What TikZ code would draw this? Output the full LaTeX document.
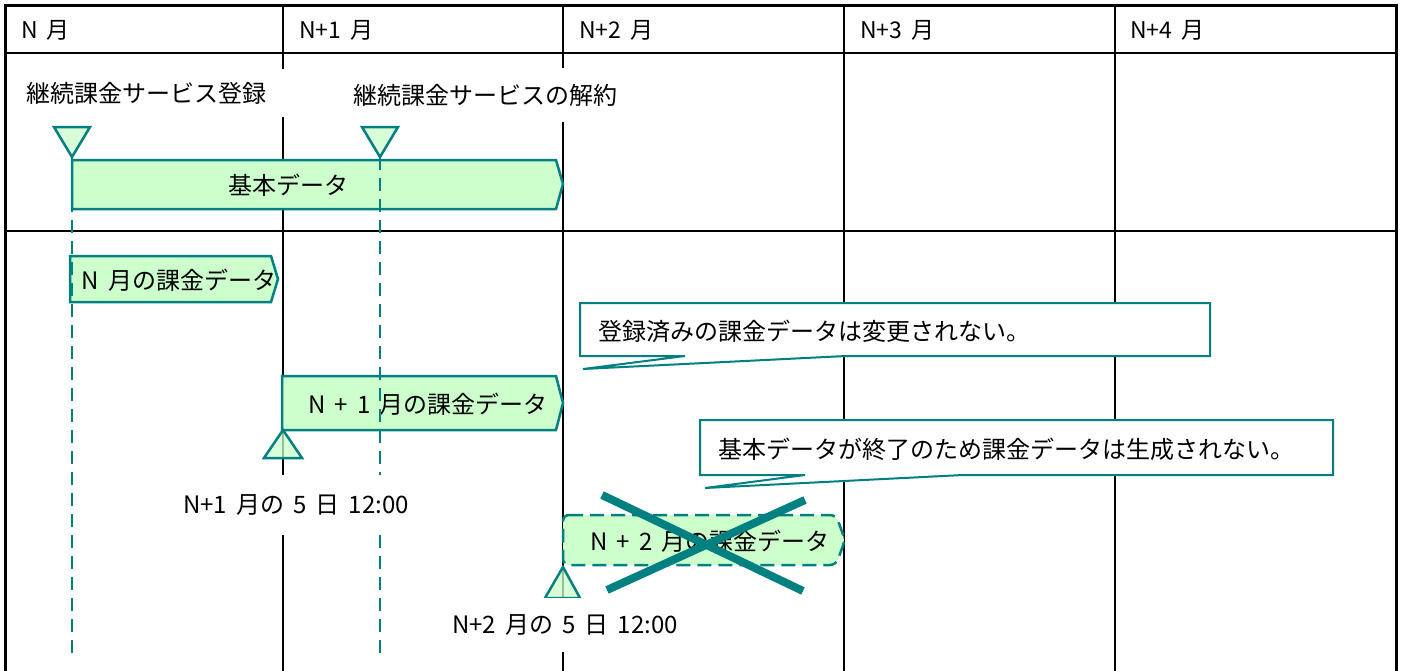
\documentclass[tikz,border=0pt]{standalone}
\usepackage{fontspec}
\setmainfont[WordSpace=1.7]{Noto Sans CJK JP}
\usetikzlibrary{positioning}
\definecolor{barline}{RGB}{0,128,128}
\definecolor{barfill}{RGB}{204,255,204}
\tikzset{
  monthline/.style={line width=2pt, black},
  frameline/.style={line width=3pt, black},
  databar/.style={draw=barline, fill=barfill, line width=2.5pt, line join=miter},
  trimark/.style={draw=barline, fill=barfill, fill opacity=0.75, line width=2.5pt},
  lifeline/.style={draw=barline, line width=2.5pt, dash pattern=on 13pt off 8pt},
  balloon/.style={draw=barline, fill=white, line width=2pt},
  headtext/.style={anchor=west, font=\fontsize{23}{27}\selectfont, inner sep=0pt},
  bodytext/.style={font=\fontsize{24}{28}\selectfont, inner sep=0pt},
  gaplabel/.style={bodytext, fill=white}
}

\begin{document}
\begin{tikzpicture}[x=1pt, y=-1pt]
\useasboundingbox (0,0) rectangle (1401,670);

% month grid
\draw[frameline] (5,672) -- (5,5) -- (1396,5) -- (1396,672);
\draw[monthline] (5,53) -- (1396,53);
\draw[monthline] (5,231) -- (1396,231);
\foreach \mx in {283, 563, 844, 1115}
  \draw[monthline] (\mx,5) -- (\mx,672);

\node[headtext] (hN)  at (21,30)   {N 月};
\node[headtext] (hN1) at (299,30)  {N+1 月};
\node[headtext] (hN2) at (579,30)  {N+2 月};
\node[headtext] (hN3) at (860,30)  {N+3 月};
\node[headtext] (hN4) at (1130,30) {N+4 月};

% data bars
\draw[databar] (72,160) -- (556,160) -- (563,184) -- (556,209) -- (72,209) -- cycle;
\node[bodytext] (base) at (288,185) {基本データ};

\draw[databar] (70,256) -- (271,256) -- (278,279) -- (271,302) -- (70,302) -- cycle;
\node[bodytext] (billN) at (179,280) {N 月の課金データ};

\draw[databar] (282,376) -- (556,376) -- (563,403) -- (556,430) -- (282,430) -- cycle;
\node[bodytext] (billN1) at (428,404) {N + 1 月の課金データ};

\draw[databar, dash pattern=on 14pt off 7pt, rounded corners=6pt]
  (563,515) -- (836,515) -- (845,540) -- (836,565) -- (563,565) -- cycle;
\node[bodytext] (billN2) at (710,541) {N + 2 月の課金データ};

% contract lifelines
\coordinate (start) at (72,157);
\coordinate (stop) at (380,157);
\draw[lifeline] (start) -- (72,660);
\draw[lifeline] (stop) -- (380,660);

% events
\draw[trimark] (54,127) -- (90,127) -- (start) -- cycle;
\draw[trimark] (362,127) -- (398,127) -- (stop) -- cycle;
\draw[trimark] (283,430) -- (302,458) -- (264,458) -- cycle;
\draw[trimark] (563,567) -- (580,598) -- (545,598) -- cycle;

% no bill for N+2
\draw[barline, line width=8pt] (602,495) -- (803,591);
\draw[barline, line width=8pt] (607,590) -- (805,500);

% notes
\draw[balloon] (580,303) -- (1210,303) -- (1210,356) -- (846,356) -- (583,369)
  -- (685,356) -- (580,356) -- cycle;
\node[bodytext, anchor=west] (note1) at (598,331) {登録済みの課金データは変更されない。};

\draw[balloon] (700,420) -- (1333,420) -- (1333,475) -- (963,475) -- (705,488)
  -- (805,475) -- (700,475) -- cycle;
\node[bodytext, anchor=west] (note2) at (718,449) {基本データが終了のため課金データは生成されない。};

% event labels
\node[gaplabel, minimum width=278pt, minimum height=48pt] (regist) at (147,93) {継続課金サービス登録};
\node[gaplabel, minimum width=300pt, minimum height=54pt] (cancel) at (485,95) {継続課金サービスの解約};
\node[gaplabel, minimum width=254pt, minimum height=60pt] (dayN1) at (296,505) {N+1 月の 5 日 12:00};
\node[gaplabel, minimum width=254pt, minimum height=54pt] (dayN2) at (565,625) {N+2 月の 5 日 12:00};
\end{tikzpicture}
\end{document}
